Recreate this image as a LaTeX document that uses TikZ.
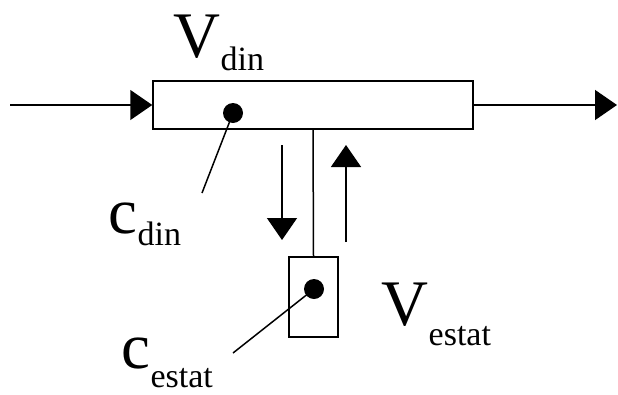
\documentclass[tikz,border=0pt]{standalone}
\usepackage{fontspec}
\setmainfont{Liberation Serif}
\usetikzlibrary{positioning,arrows.meta}

% main letter, subscript, drop of the subscript
\newcommand{\qty}[3]{{\fontsize{65}{65}\selectfont #1}\raisebox{-#3pt}{\fontsize{34}{34}\selectfont #2}}

\begin{document}
\begin{tikzpicture}[
    x=1pt, y=-1pt,
    line width=1.5pt,
    pipe/.style={draw, minimum width=320pt, minimum height=48pt, inner sep=0pt},
    tank/.style={draw, minimum width=49pt, minimum height=80pt, inner sep=0pt},
    probe/.style={circle, fill=black, minimum size=20pt, inner sep=0pt},
    flow/.style={-{Triangle[length=22pt, width=30pt]}},
    lbl/.style={anchor=base west, inner sep=0pt}
  ]
  \useasboundingbox (0,0) rectangle (618,394);
  % pipe and side tank
  \node[pipe] (din) at (313,105) {};
  \node[tank] (estat) at (313.5,297) {};
  \draw (din.south) -- (estat.north);
  % through flow
  \coordinate (in) at (10,105);
  \coordinate (out) at (617,105);
  \draw[flow] (in) -- (din.west);
  \draw[flow] (din.east) -- (out);
  % exchange
  \coordinate (down1) at (282,145);
  \coordinate (down2) at (282,240);
  \coordinate (up1) at (346,242);
  \coordinate (up2) at (346,145);
  \draw[flow] (down1) -- (down2);
  \draw[flow] (up1) -- (up2);
  % concentrations
  \node[probe] (cdin) at (233,113) {};
  \node[probe] (cestat) at (314,289) {};
  \coordinate (cdintip) at (202,193);
  \coordinate (cestattip) at (233,353);
  \draw (cdin.center) -- (cdintip);
  \draw (cestat.center) -- (cestattip);
  % labels
  \node[lbl] (vdinlbl) at (173,57) {\qty{V}{din}{13}};
  \node[lbl] (cdinlbl) at (108,233) {\qty{c}{din}{12}};
  \node[lbl] (vestatlbl) at (381,325) {\qty{V}{estat}{20}};
  \node[lbl] (cestatlbl) at (121,368) {\qty{c}{estat}{19}};
\end{tikzpicture}
\end{document}
